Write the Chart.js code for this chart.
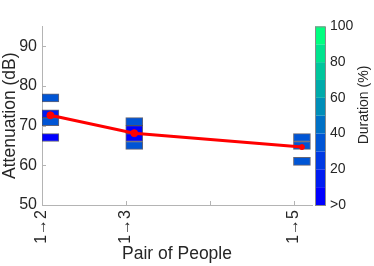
<!DOCTYPE html>
<html>
<head>
<meta charset="utf-8">
<script src="https://cdn.jsdelivr.net/npm/chart.js@4.4.1/dist/chart.umd.min.js"></script>
<style>
  html, body { margin: 0; padding: 0; background: #fff; }
  #wrap { width: 374px; height: 266px; }
</style>
</head>
<body>
<div id="wrap"><canvas id="attChart" width="374" height="266"></canvas></div>
<script>
// pairs on the x axis
const pairTicks = [2, 3, 4, 5];
const pairLabels = ['1\u21922', '1\u21923', '', '1\u21925'];

// attenuation bins (2 dB) per pair, coloured by duration
const binPair = [2.1, 2.1, 2.1, 2.1, 3.1, 3.1, 3.1, 3.1, 5.1, 5.1, 5.1];
const binLow = [76, 72, 70, 66, 70, 68, 66, 64, 66, 64, 60];
const binHigh = [78, 74, 72, 68, 72, 70, 68, 66, 68, 66, 62];
const binDuration = [34, 14, 34, 6, 34, 6, 6, 34, 34, 34, 34];

// mean attenuation per pair (red line)
const meanPair = [2.1, 3.1, 5.1];
const meanAtt = [72.6, 68.1, 64.6];

// colorbar
const cbTicks = [0, 20, 40, 60, 80, 100];
const cbLabels = ['>0', '20', '40', '60', '80', '100'];
const cbSteps = 10;

const FONT = '"Liberation Sans", Arial, Helvetica, sans-serif';
const TEXT = '#262626';
const AXIS = '#b4b4b4';

// matlab "winter", 10 levels
function winter(i) {
  const t = i / (cbSteps - 1);
  return `rgb(0,${Math.round(255 * t)},${Math.round(255 * (1 - 0.5 * t))})`;
}
function durColor(d) {
  return winter(Math.min(cbSteps - 1, Math.floor(d / (100 / cbSteps))));
}

const extras = {
  id: 'extras',
  afterDraw(chart) {
    const { ctx, chartArea } = chart;
    const xs = chart.scales.x, ys = chart.scales.y, cb = chart.scales.cb;
    ctx.save();
    // inward tick marks
    ctx.strokeStyle = AXIS;
    ctx.lineWidth = 1;
    ctx.beginPath();
    ys.ticks.forEach(t => {
      const y = Math.round(ys.getPixelForValue(t.value)) + 0.5;
      ctx.moveTo(chartArea.left, y);
      ctx.lineTo(chartArea.left + 4, y);
    });
    xs.ticks.forEach(t => {
      const x = Math.round(xs.getPixelForValue(t.value)) + 0.5;
      ctx.moveTo(x, chartArea.bottom);
      ctx.lineTo(x, chartArea.bottom - 4);
    });
    ctx.stroke();

    // colorbar
    const x0 = cb.left + 3, w = 10;
    for (let i = 0; i < cbSteps; i++) {
      const yTop = cb.getPixelForValue((i + 1) * 100 / cbSteps);
      const yBot = cb.getPixelForValue(i * 100 / cbSteps);
      ctx.fillStyle = winter(i);
      ctx.fillRect(x0, yTop, w, yBot - yTop);
    }
    ctx.strokeStyle = '#8a8a8a';
    ctx.strokeRect(x0 + 0.5, cb.top + 0.5, w, cb.bottom - cb.top);

    // colorbar title
    ctx.fillStyle = TEXT;
    ctx.font = `14px ${FONT}`;
    ctx.textAlign = 'center';
    ctx.textBaseline = 'middle';
    ctx.translate(chart.width - 10, 105);
    ctx.rotate(-Math.PI / 2);
    ctx.fillText('Duration (%)', 0, 0);
    ctx.restore();
  }
};

new Chart(document.getElementById('attChart'), {
  type: 'bar',
  data: {
    datasets: [
      {
        type: 'line',
        data: meanPair.map((x, i) => ({ x, y: meanAtt[i] })),
        borderColor: '#ff0000',
        backgroundColor: '#ff0000',
        borderWidth: 3,
        pointRadius: [3.5, 3.5, 2.5],
        pointBorderWidth: 1,
        clip: false,
        order: 0,
      },
      {
        data: binPair.map((x, i) => ({ x, y: [binLow[i], binHigh[i]] })),
        backgroundColor: binDuration.map(durColor),
        borderColor: 'rgba(50,50,70,0.75)',
        borderWidth: 1,
        borderSkipped: false,
        barThickness: 17,
        order: 1,
      },
    ],
  },
  options: {
    responsive: false,
    devicePixelRatio: 1,
    animation: false,
    layout: { padding: { top: 5, left: 0, right: 0, bottom: 0 } },
    plugins: {
      legend: { display: false },
      tooltip: { enabled: false },
    },
    scales: {
      x: {
        type: 'linear',
        offset: false,
        min: 2,
        max: 5.22,
        grid: { display: false, drawTicks: false, tickLength: 0 },
        border: { display: true, color: AXIS },
        afterBuildTicks: s => { s.ticks = pairTicks.map(v => ({ value: v })); },
        afterFit: s => { s.height = 61; },
        ticks: {
          autoSkip: false,
          minRotation: 90,
          maxRotation: 90,
          padding: 5,
          color: TEXT,
          font: { family: FONT, size: 16 },
          callback: v => pairLabels[pairTicks.indexOf(v)] ?? '',
        },
        title: {
          display: true,
          text: 'Pair of People',
          color: TEXT,
          font: { family: FONT, size: 17.5 },
          padding: { top: 0, bottom: 1 },
        },
      },
      y: {
        min: 50,
        max: 95,
        grid: { display: false, drawTicks: false, tickLength: 0 },
        border: { display: true, color: AXIS },
        afterBuildTicks: s => { s.ticks = s.ticks.filter(t => t.value % 10 === 0); },
        afterFit: s => { s.width = 42; },
        ticks: {
          stepSize: 10,
          padding: 5,
          color: TEXT,
          font: { family: FONT, size: 16 },
        },
        title: {
          display: true,
          text: 'Attenuation (dB)',
          color: TEXT,
          font: { family: FONT, size: 17.5 },
          padding: { top: 0, bottom: 0 },
        },
      },
      cb: {
        type: 'linear',
        position: 'right',
        min: 0,
        max: 100,
        grid: { display: false, drawTicks: false, tickLength: 0 },
        border: { display: false },
        afterBuildTicks: s => { s.ticks = cbTicks.map(v => ({ value: v })); },
        afterFit: s => { s.width = 62; },
        ticks: {
          padding: 18,
          color: TEXT,
          font: { family: FONT, size: 14 },
          callback: v => cbLabels[cbTicks.indexOf(v)] ?? '',
        },
      },
    },
  },
  plugins: [extras],
});
</script>
</body>
</html>
